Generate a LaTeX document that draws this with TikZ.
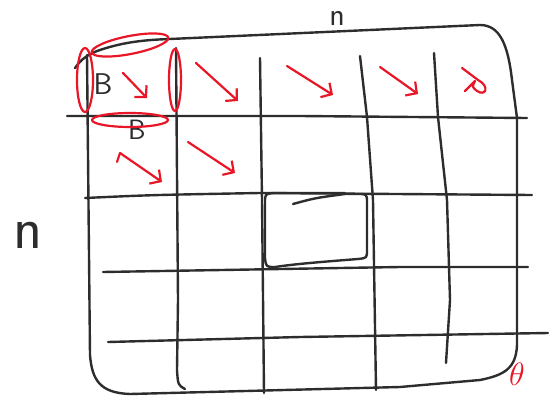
\documentclass[tikz,border=0pt]{standalone}
\usepackage{graphicx}
\usetikzlibrary{arrows.meta}
\definecolor{inkblack}{RGB}{45,45,45}
\definecolor{inkred}{RGB}{232,22,38}
\tikzset{
  pen/.style={draw=inkblack, line width=2.4pt, line cap=round, line join=round},
  redpen/.style={draw=inkred, line width=2.2pt, line cap=round, line join=round},
  scrawl/.style={inner sep=0pt, text=inkblack, font=\sffamily},
}
\begin{document}
\begin{tikzpicture}[x=1pt, y=-1pt, >={Straight Barb[length=8pt,width=17pt]}]
  \useasboundingbox (0,0) rectangle (549,399);

  % outer matrix outline
  \draw[pen] (75,68) .. controls (82,58) and (88,55) .. (97,51)
       .. controls (120,43) and (140,40) .. (170,39) -- (480,25)
       .. controls (500,25) and (508,45) .. (512,80) -- (517,118) -- (517,345)
       .. controls (516,368) and (505,375) .. (480,380) -- (400,387) -- (130,394)
       .. controls (100,393) and (92,380) .. (90,355) -- (87,55);

  % block rows
  \draw[pen] (67,116) -- (300,116) -- (527,118);
  \draw[pen] (85,198) .. controls (150,195) .. (260,193) -- (532,195);
  \draw[pen] (103,272) -- (400,267) -- (528,267);
  \draw[pen] (108,342) -- (300,337) -- (548,333);

  % block columns
  \draw[pen] (176,48) -- (178,300) -- (177,370) .. controls (178,385) .. (185,389);
  \draw[pen] (260,58) -- (262,200) -- (264,393);
  \draw[pen] (360,56) -- (367,117) -- (373,200) -- (376,390);
  \draw[pen] (434,53) -- (438,117) -- (447,200) -- (450,300) -- (446,363);

  % one marked block
  \draw[pen] (293,204) .. controls (315,198) .. (345,194) -- (358,194)
       .. controls (367,194) .. (367,203) -- (367,250) .. controls (367,258) .. (358,259)
       .. controls (320,262) and (295,264) .. (275,267) .. controls (266,267) .. (265,258)
       -- (265,203) .. controls (265,194) .. (273,193) -- (345,193);

  % sizes
  \node[scrawl, font=\sffamily\fontsize{32}{32}\selectfont] (ntop) at (337,18) {n};
  \node[scrawl, font=\sffamily\fontsize{60}{60}\selectfont] (nleft) at (28,235) {n};
  \node[scrawl, font=\sffamily\fontsize{30}{30}\selectfont] (bside) at (103,84) {B};
  \node[scrawl, font=\sffamily\fontsize{28}{28}\selectfont] (bbase) at (137,130) {B};

  % red marks round the first block
  \draw[redpen, rotate around={11:(130,45)}] (130,45) ellipse [x radius=39pt, y radius=9pt];
  \draw[redpen] (85,80) ellipse [x radius=8pt, y radius=32pt];
  \draw[redpen] (175,80) ellipse [x radius=6pt, y radius=31pt];
  \draw[redpen] (130,120) ellipse [x radius=38pt, y radius=7pt];

  % sweep direction
  \foreach \sx/\sy/\ex/\ey in {123/73/147/98, 196/63/238/101, 287/66/333/95,
                               380/67/418/94, 120/153/162/182, 188/142/235/173}
    \draw[redpen, ->] (\sx,\sy) -- (\ex,\ey);
  \draw[redpen] (117,162) -- (120,153);
  \draw[redpen] (462,68) -- (478,80) .. controls (490,86) and (486,97) .. (477,91)
       .. controls (472,87) .. (475,81) -- (465,91);

  % corner mark
  \node[inner sep=0pt, text=inkred] (corner) at (517,374) {\scalebox{1.3}{\Huge$\theta$}};
\end{tikzpicture}
\end{document}
